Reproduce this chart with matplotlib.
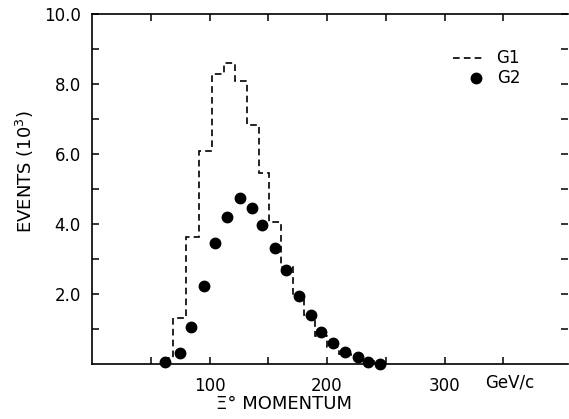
import matplotlib
matplotlib.use('Agg')
import matplotlib.pyplot as plt

# G1: dashed histogram (bin edges in GeV/c, heights in 10^3 events)
g1_edges = [60, 69, 80, 91, 102, 112, 122, 132, 142, 151, 161, 171, 180,
            190, 200, 210, 220, 230, 240, 250]
g1_counts = [0.18, 1.32, 3.64, 6.09, 8.29, 8.59, 8.09, 6.83, 5.47, 4.05,
             2.76, 1.95, 1.40, 0.80, 0.50, 0.30, 0.18, 0.08, 0.03]

# G2: filled dots
g2_p = [62, 75, 84, 95, 105, 115, 126, 136, 145, 156, 165, 176, 186, 195,
        205, 215, 226, 235, 245]
g2_counts = [0.07, 0.32, 1.07, 2.24, 3.45, 4.21, 4.73, 4.47, 3.97, 3.32,
             2.69, 1.94, 1.41, 0.92, 0.59, 0.34, 0.21, 0.07, 0.0]

x_labels = {100: '100', 200: '200', 300: '300'}
y_ticks = [2, 4, 6, 8, 10]
y_labels = ['2.0', '4.0', '6.0', '8.0', '10.0']

plt.rcParams['font.family'] = 'DejaVu Sans'

fig = plt.figure(figsize=(5.69, 4.19), dpi=100)
ax = fig.add_axes([92 / 569, 1 - 364 / 419, 476 / 569, 350 / 419])

ax.stairs(g1_counts, g1_edges, color='black', lw=1.2,
          linestyle=(0, (4, 2.5)), baseline=None)
ax.plot(g2_p, g2_counts, 'o', color='black', ms=7.5, clip_on=False)

ax.set_xlim(0, 405)
ax.set_ylim(0, 10)

ax.set_xticks(range(50, 400, 50))
ax.set_xticklabels([x_labels.get(v, '') for v in range(50, 400, 50)], fontsize=12)
ax.set_yticks(range(1, 11))
ax.set_yticklabels([y_labels[y_ticks.index(v)] if v in y_ticks else '' for v in range(1, 11)],
                   fontsize=12)
ax.tick_params(direction='in', length=5, width=1.1, top=True, right=True, pad=8)
ax.tick_params(axis='x', pad=9)

for s in ['left', 'bottom', 'top']:
    ax.spines[s].set_linewidth(1.2)
ax.spines['right'].set_visible(False)

ax.text(0.878, -0.054, 'GeV/c', transform=ax.transAxes, fontsize=12,
        ha='center', va='center')

# legend drawn by hand
ax.plot([0.758, 0.821], [0.874, 0.874], transform=ax.transAxes, color='black',
        lw=1.2, linestyle=(0, (4, 2.5)))
ax.text(0.849, 0.874, 'G1', transform=ax.transAxes, fontsize=12, va='center')
ax.plot([0.807], [0.817], 'o', transform=ax.transAxes, color='black', ms=7.5)
ax.text(0.851, 0.817, 'G2', transform=ax.transAxes, fontsize=12, va='center')

fig.text(0.043, 0.59, 'EVENTS (10$^3$)', rotation=90, fontsize=13,
         ha='center', va='center')
fig.text(0.5, 0.036, 'Ξ° MOMENTUM', fontsize=13, ha='center', va='center')

fig.savefig('out.png', dpi=100)
